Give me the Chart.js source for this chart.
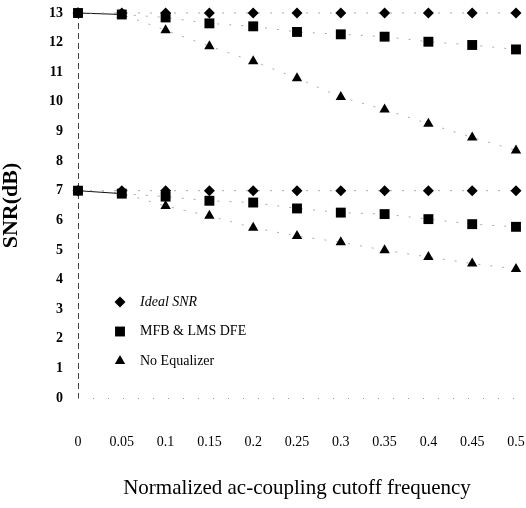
<!DOCTYPE html>
<html>
<head>
<meta charset="utf-8">
<script src="https://cdn.jsdelivr.net/npm/chart.js@4.4.1/dist/chart.umd.min.js"></script>
<style>
  html, body { margin: 0; padding: 0; background: #fff; }
  #wrap { width: 526px; height: 508px; position: relative; }
</style>
</head>
<body>
<div id="wrap"><canvas id="myChart"></canvas></div>
<script>
// normalized ac-coupling cutoff frequency
var freq = [0, 0.05, 0.1, 0.15, 0.2, 0.25, 0.3, 0.35, 0.4, 0.45, 0.5];
var xTickLabels = ["0", "0.05", "0.1", "0.15", "0.2", "0.25", "0.3", "0.35", "0.4", "0.45", "0.5"];

// upper group (13 dB)
var ideal13 = [13, 13, 13, 13, 13, 13, 13, 13, 13, 13, 13];
var mfb13   = [13.0, 12.95, 12.85, 12.65, 12.55, 12.36, 12.28, 12.2, 12.03, 11.92, 11.77];
var noeq13  = [13.0, 12.95, 12.42, 11.88, 11.37, 10.8, 10.16, 9.74, 9.26, 8.8, 8.36];

// lower group (7 dB)
var ideal7 = [7, 7, 7, 7, 7, 7, 7, 7, 7, 7, 7];
var mfb7   = [7.0, 6.9, 6.8, 6.66, 6.6, 6.4, 6.26, 6.21, 6.04, 5.87, 5.78];
var noeq7  = [7.0, 6.92, 6.48, 6.15, 5.75, 5.47, 5.26, 4.99, 4.76, 4.54, 4.36];

var legendNames = ["Ideal SNR", "MFB & LMS DFE", "No Equalizer"];

function pts(ys) {
    return freq.map(function (f, i) { return { x: f, y: ys[i] }; });
}

var serif = "'Liberation Serif', 'DejaVu Serif', serif";

function series(label, ys, style, radius, firstSolid) {
    return {
        label: label,
        data: pts(ys),
        showLine: true,
        clip: false,
        pointStyle: style,
        pointRadius: radius,
        pointHoverRadius: radius,
        pointBackgroundColor: "#000",
        pointBorderColor: "#000",
        pointBorderWidth: 0,
        borderColor: "#aaa",
        borderWidth: 1,
        borderDash: [2, 10],
        segment: {
            borderDash: function (c) { return (firstSolid && c.p0DataIndex === 0) ? [] : undefined; },
            borderColor: function (c) { return (firstSolid && c.p0DataIndex === 0) ? "#111" : undefined; }
        }
    };
}

// dashed left axis and dotted baseline like the scanned original
var axisLines = {
    id: "axisLines",
    beforeDatasetsDraw: function (chart) {
        var ctx = chart.ctx, a = chart.chartArea;
        ctx.save();
        ctx.lineWidth = 1;
        ctx.strokeStyle = "#444";
        ctx.setLineDash([6, 4]);
        ctx.beginPath();
        ctx.moveTo(a.left + 0.5, a.top);
        ctx.lineTo(a.left + 0.5, a.bottom);
        ctx.stroke();
        ctx.strokeStyle = "#999";
        ctx.setLineDash([1, 14]);
        ctx.beginPath();
        ctx.moveTo(a.left, a.bottom + 0.5);
        ctx.lineTo(a.right, a.bottom + 0.5);
        ctx.stroke();
        ctx.restore();
    }
};

// legend drawn inside the plot, lower left
var insideLegend = {
    id: "insideLegend",
    afterDraw: function (chart) {
        var ctx = chart.ctx, a = chart.chartArea;
        var styles = [
            { pointStyle: "rectRot", radius: 5.5 },
            { pointStyle: "rect", radius: 7 },
            { pointStyle: "triangle", radius: 6 }
        ];
        var x0 = a.left + 42, y0 = a.top + 289, gap = 29.5;
        ctx.save();
        for (var i = 0; i < 3; i++) {
            var y = y0 + i * gap;
            ctx.fillStyle = "#000";
            ctx.strokeStyle = "#000";
            Chart.helpers.drawPoint(ctx, { pointStyle: styles[i].pointStyle, radius: styles[i].radius, rotation: 0, borderWidth: 0 }, x0, y);
            ctx.fillStyle = "#000";
            ctx.font = (i === 0 ? "italic " : "") + "14px " + serif;
            ctx.textBaseline = "middle";
            ctx.textAlign = "left";
            ctx.fillText(legendNames[i], x0 + 20, y);
        }
        ctx.restore();
    }
};

var ctx = document.getElementById("myChart").getContext("2d");
var myChart = new Chart(ctx, {
    type: "scatter",
    data: {
        datasets: [
            series(legendNames[0], ideal13, "rectRot", 5.5, false),
            series(legendNames[1], mfb13, "rect", 7, true),
            series(legendNames[2], noeq13, "triangle", 6, false),
            series(legendNames[0], ideal7, "rectRot", 5.5, false),
            series(legendNames[1], mfb7, "rect", 7, true),
            series(legendNames[2], noeq7, "triangle", 6, false)
        ]
    },
    options: {
        responsive: true,
        maintainAspectRatio: false,
        animation: false,
        events: [],
        layout: { padding: { top: 13, right: 10, left: 0, bottom: 0 } },
        plugins: {
            legend: { display: false },
            tooltip: { enabled: false }
        },
        scales: {
            x: {
                type: "linear",
                min: 0,
                max: 0.5,
                afterBuildTicks: function (scale) {
                    scale.ticks = freq.map(function (v) { return { value: v }; });
                },
                afterFit: function (scale) {
                    scale.height = 110;
                    scale.paddingLeft = 0;
                    scale.paddingRight = 0;
                },
                grid: { display: false, drawTicks: false },
                border: { display: false },
                ticks: {
                    autoSkip: false,
                    maxRotation: 0,
                    padding: 36,
                    color: "#000",
                    font: { family: serif, size: 14 },
                    callback: function (v, i) { return xTickLabels[i]; }
                },
                title: {
                    display: true,
                    text: "Normalized ac-coupling cutoff frequency",
                    color: "#000",
                    font: { family: serif, size: 21 },
                    padding: { top: 0, bottom: 7 }
                }
            },
            y: {
                min: 0,
                max: 13,
                afterFit: function (scale) {
                    scale.width = 78;
                    scale.paddingTop = 0;
                    scale.paddingBottom = 0;
                },
                grid: { display: false, drawTicks: false },
                border: { display: false },
                ticks: {
                    stepSize: 1,
                    padding: 15,
                    color: "#000",
                    font: { family: serif, size: 14, weight: "bold" }
                },
                title: {
                    display: true,
                    text: "SNR(dB)",
                    color: "#000",
                    font: { family: serif, size: 22, weight: "bold" },
                    padding: { top: -2, bottom: 0 }
                }
            }
        }
    },
    plugins: [axisLines, insideLegend]
});
</script>
</body>
</html>
